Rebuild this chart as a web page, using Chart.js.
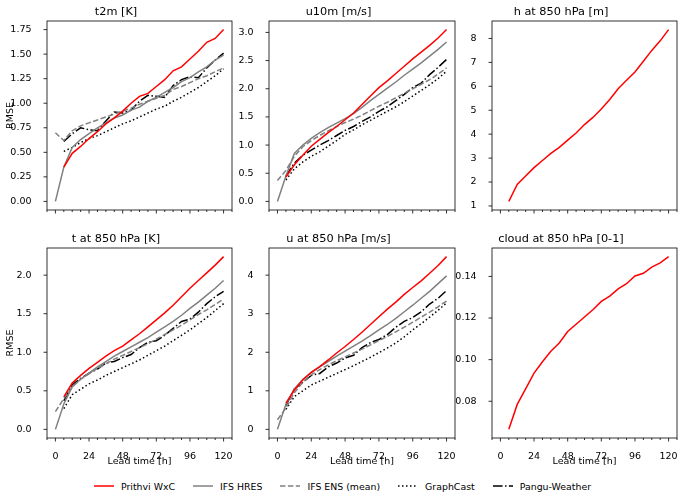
<!DOCTYPE html>
<html>
<head>
<meta charset="utf-8">
<script src="https://cdn.jsdelivr.net/npm/chart.js@4.4.0/dist/chart.umd.min.js"></script>
<style>
  body { margin: 0; width: 685px; height: 500px; background: #fff; position: relative; overflow: hidden; font-family: 'DejaVu Sans', sans-serif; }
  canvas { position: absolute; }
  #legend { position: absolute; left: 0; top: 480px; width: 685px; height: 12px; display: flex; justify-content: center; align-items: center; font-size: 9.4px; color: #000; }
  .item { display: flex; align-items: center; margin: 0 9px; white-space: nowrap; }
  .item svg { margin-right: 7px; }
</style>
</head>
<body>
<div id="legend"></div>
<script>
// lead times [h]
const leadTimes = [0, 6, 12, 18, 24, 30, 36, 42, 48, 54, 60, 66, 72, 78, 84, 90, 96, 102, 108, 114, 120];
const models = ['Prithvi WxC', 'IFS HRES', 'IFS ENS (mean)', 'GraphCast', 'Pangu-Weather'];

// t2m [K]
const t2mPrithvi = [null, 0.35, 0.49, 0.56, 0.64, 0.71, 0.79, 0.85, 0.92, 1.00, 1.07, 1.10, 1.17, 1.24, 1.33, 1.37, 1.45, 1.53, 1.62, 1.66, 1.75];
const t2mHres = [0.00, 0.35, 0.55, 0.63, 0.69, 0.75, 0.80, 0.85, 0.88, 0.93, 0.96, 1.02, 1.06, 1.11, 1.16, 1.22, 1.26, 1.32, 1.37, 1.44, 1.49];
const t2mEns = [0.70, 0.62, 0.72, 0.77, 0.80, 0.83, 0.86, 0.89, 0.92, 0.95, 0.99, 1.02, 1.05, 1.08, 1.14, 1.17, 1.21, 1.25, 1.28, 1.32, 1.36];
const t2mGraphCast = [null, 0.51, 0.55, 0.60, 0.64, 0.67, 0.71, 0.75, 0.79, 0.82, 0.86, 0.90, 0.94, 0.97, 1.02, 1.06, 1.11, 1.16, 1.22, 1.28, 1.35];
const t2mPangu = [null, 0.61, 0.69, 0.75, 0.73, 0.72, 0.82, 0.91, 0.90, 0.93, 1.02, 1.08, 1.07, 1.06, 1.18, 1.24, 1.27, 1.26, 1.36, 1.44, 1.51];

// u10m [m/s]
const u10Prithvi = [null, 0.43, 0.65, 0.82, 0.98, 1.10, 1.22, 1.33, 1.45, 1.57, 1.72, 1.87, 2.02, 2.14, 2.27, 2.40, 2.53, 2.65, 2.77, 2.90, 3.05];
const u10Hres = [0.00, 0.45, 0.85, 1.00, 1.12, 1.22, 1.31, 1.39, 1.47, 1.56, 1.67, 1.79, 1.90, 2.01, 2.12, 2.24, 2.35, 2.46, 2.58, 2.70, 2.83];
const u10Ens = [0.37, 0.55, 0.80, 0.97, 1.08, 1.17, 1.25, 1.33, 1.40, 1.46, 1.53, 1.61, 1.69, 1.76, 1.84, 1.92, 2.00, 2.08, 2.16, 2.26, 2.37];
const u10GraphCast = [null, 0.38, 0.58, 0.70, 0.80, 0.88, 0.98, 1.08, 1.19, 1.27, 1.36, 1.44, 1.52, 1.60, 1.68, 1.77, 1.87, 1.97, 2.07, 2.18, 2.31];
const u10Pangu = [null, 0.45, 0.68, 0.82, 0.91, 1.00, 1.08, 1.17, 1.26, 1.33, 1.42, 1.50, 1.60, 1.68, 1.79, 1.90, 2.02, 2.10, 2.25, 2.38, 2.52];

// h at 850 hPa [m]
const h850Prithvi = [null, 1.19, 1.90, 2.25, 2.60, 2.90, 3.20, 3.45, 3.75, 4.05, 4.40, 4.70, 5.05, 5.45, 5.90, 6.25, 6.60, 7.05, 7.50, 7.90, 8.37];

// t at 850 hPa [K]
const t850Prithvi = [null, 0.42, 0.60, 0.70, 0.79, 0.87, 0.95, 1.02, 1.08, 1.16, 1.24, 1.33, 1.42, 1.51, 1.61, 1.72, 1.83, 1.93, 2.03, 2.13, 2.24];
const t850Hres = [0.00, 0.33, 0.55, 0.65, 0.73, 0.81, 0.88, 0.95, 1.01, 1.07, 1.13, 1.19, 1.26, 1.33, 1.40, 1.48, 1.57, 1.65, 1.74, 1.83, 1.93];
const t850Ens = [0.23, 0.40, 0.55, 0.65, 0.72, 0.79, 0.85, 0.91, 0.96, 1.01, 1.06, 1.11, 1.17, 1.23, 1.29, 1.35, 1.42, 1.49, 1.55, 1.62, 1.69];
const t850GraphCast = [null, 0.27, 0.45, 0.52, 0.59, 0.64, 0.70, 0.75, 0.80, 0.85, 0.90, 0.96, 1.02, 1.08, 1.15, 1.22, 1.29, 1.37, 1.45, 1.54, 1.63];
const t850Pangu = [null, 0.37, 0.58, 0.66, 0.73, 0.78, 0.86, 0.88, 0.93, 0.97, 1.06, 1.13, 1.15, 1.22, 1.31, 1.40, 1.43, 1.52, 1.63, 1.72, 1.79];

// u at 850 hPa [m/s]
const u850Prithvi = [null, 0.68, 1.02, 1.28, 1.48, 1.63, 1.80, 1.98, 2.15, 2.33, 2.52, 2.72, 2.92, 3.12, 3.30, 3.50, 3.68, 3.85, 4.05, 4.25, 4.48];
const u850Hres = [0.00, 0.65, 1.05, 1.30, 1.48, 1.62, 1.76, 1.90, 2.03, 2.16, 2.29, 2.43, 2.58, 2.72, 2.88, 3.05, 3.22, 3.40, 3.58, 3.78, 3.98];
const u850Ens = [0.25, 0.55, 0.95, 1.22, 1.42, 1.55, 1.67, 1.78, 1.88, 1.98, 2.08, 2.19, 2.30, 2.41, 2.53, 2.65, 2.78, 2.91, 3.04, 3.18, 3.33];
const u850GraphCast = [null, 0.52, 0.85, 1.00, 1.15, 1.25, 1.35, 1.45, 1.55, 1.65, 1.76, 1.87, 1.99, 2.11, 2.24, 2.40, 2.58, 2.74, 2.91, 3.09, 3.28];
const u850Pangu = [null, 0.62, 1.05, 1.22, 1.40, 1.45, 1.62, 1.72, 1.85, 1.92, 2.12, 2.25, 2.33, 2.46, 2.65, 2.80, 2.90, 3.05, 3.25, 3.40, 3.60];

// cloud at 850 hPa [0-1]
const cloudPrithvi = [null, 0.0665, 0.0785, 0.086, 0.0935, 0.099, 0.104, 0.108, 0.1135, 0.117, 0.1205, 0.124, 0.128, 0.1305, 0.134, 0.1365, 0.1402, 0.1415, 0.1445, 0.1465, 0.1495];

// tick labels
const xTicks = [0, 24, 48, 72, 96, 120];
const t2mTicks = [0, 0.25, 0.5, 0.75, 1.0, 1.25, 1.5, 1.75];
const u10Ticks = [0, 0.5, 1.0, 1.5, 2.0, 2.5, 3.0];
const h850Ticks = [1, 2, 3, 4, 5, 6, 7, 8];
const t850Ticks = [0, 0.5, 1.0, 1.5, 2.0];
const u850Ticks = [0, 1, 2, 3, 4];
const cloudTicks = [0.08, 0.10, 0.12, 0.14];

const colors = ['#ff0000', '#808080', '#808080', '#000000', '#000000'];
const dashes = [[], [], [5.5, 2.4], [1.5, 2.5], [9.6, 2.4, 1.5, 2.4]];

Chart.defaults.font.family = "'DejaVu Sans', sans-serif";
Chart.defaults.color = '#000';

const colL = [47, 269, 492], colR = [232, 455, 677];
const rowT = [21, 248], rowB = [210, 438];

// box around the axes + outward ticks (major/minor on x)
const frame = {
  id: 'frame',
  afterDraw(chart) {
    const { ctx, chartArea: a, scales: { x, y } } = chart;
    ctx.save();
    ctx.strokeStyle = '#000';
    ctx.lineWidth = 0.8;
    ctx.strokeRect(a.left, a.top, a.right - a.left, a.bottom - a.top);
    ctx.beginPath();
    for (let v = -6; v <= 126; v += 6) {
      const p = x.getPixelForValue(v);
      const len = v % 24 === 0 ? 3.5 : 2;
      ctx.moveTo(p, a.bottom);
      ctx.lineTo(p, a.bottom + len);
    }
    y.ticks.forEach(t => {
      const p = y.getPixelForValue(t.value);
      ctx.moveTo(a.left, p);
      ctx.lineTo(a.left - 3.5, p);
    });
    ctx.stroke();
    ctx.restore();
  }
};

function yRange(series) {
  const vals = series.flat().filter(v => v !== null);
  const lo = Math.min(...vals), hi = Math.max(...vals);
  const m = (hi - lo) * 0.05;
  return [lo - m, hi + m];
}

function panel(title, series, yTicks, dec, row, col) {
  const xh = row === 1 ? 32 : 16;
  const w = colR[col] - colL[col] + 47 + 8;
  const h = 21 + rowB[row] - rowT[row] + xh;
  const cv = document.createElement('canvas');
  cv.width = w; cv.height = h;
  cv.style.left = (colL[col] - 47) + 'px';
  cv.style.top = (rowT[row] - 21) + 'px';
  document.body.appendChild(cv);
  const [ymin, ymax] = yRange(series);

  new Chart(cv, {
    type: 'line',
    data: {
      datasets: series.map((vals, i) => ({
        label: models[i],
        data: leadTimes.map((t, j) => ({ x: t, y: vals[j] })),
        borderColor: colors[i],
        borderDash: dashes[i],
        borderWidth: 1.5,
        pointRadius: 0,
        tension: 0,
        fill: false
      }))
    },
    options: {
      responsive: false,
      animation: false,
      events: [],
      layout: { padding: { left: 0, top: 0, right: 8, bottom: 0 } },
      plugins: {
        legend: { display: false },
        tooltip: { enabled: false },
        title: {
          display: true,
          text: title,
          color: '#000',
          font: { size: 11.3, weight: 'normal' },
          padding: { top: 5.2, bottom: 2.24 }
        }
      },
      scales: {
        x: {
          type: 'linear',
          min: -6,
          max: 126,
          grid: { display: false },
          border: { display: false },
          afterBuildTicks: s => { s.ticks = xTicks.map(v => ({ value: v })); },
          afterFit: s => { s.height = xh; },
          ticks: { display: row === 1, padding: 5, maxRotation: 0, autoSkip: false, font: { size: 9.5 } },
          title: { display: row === 1, text: 'Lead time [h]', font: { size: 9.5 }, padding: { top: 0, bottom: 2.6 } }
        },
        y: {
          type: 'linear',
          min: ymin,
          max: ymax,
          grid: { display: false },
          border: { display: false },
          afterBuildTicks: s => { s.ticks = yTicks.map(v => ({ value: v })); },
          afterFit: s => { s.width = 47; },
          ticks: { padding: 7.5, font: { size: 9.5 }, callback: v => v.toFixed(dec) },
          title: { display: col === 0, text: 'RMSE', font: { size: 9.5 }, padding: { top: 4.8, bottom: 0 } }
        }
      }
    },
    plugins: [frame]
  });
}

panel('t2m [K]', [t2mPrithvi, t2mHres, t2mEns, t2mGraphCast, t2mPangu], t2mTicks, 2, 0, 0);
panel('u10m [m/s]', [u10Prithvi, u10Hres, u10Ens, u10GraphCast, u10Pangu], u10Ticks, 1, 0, 1);
panel('h at 850 hPa [m]', [h850Prithvi], h850Ticks, 0, 0, 2);
panel('t at 850 hPa [K]', [t850Prithvi, t850Hres, t850Ens, t850GraphCast, t850Pangu], t850Ticks, 1, 1, 0);
panel('u at 850 hPa [m/s]', [u850Prithvi, u850Hres, u850Ens, u850GraphCast, u850Pangu], u850Ticks, 0, 1, 1);
panel('cloud at 850 hPa [0-1]', [cloudPrithvi], cloudTicks, 2, 1, 2);

// legend
const legend = document.getElementById('legend');
models.forEach((m, i) => {
  const item = document.createElement('div');
  item.className = 'item';
  item.innerHTML = '<svg width="20" height="6"><line x1="0" y1="3" x2="20" y2="3" stroke="' + colors[i] +
    '" stroke-width="1.5" stroke-dasharray="' + (dashes[i].length ? dashes[i].join(' ') : 'none') + '"/></svg>';
  const label = document.createElement('span');
  label.textContent = m;
  item.appendChild(label);
  legend.appendChild(item);
});
</script>
</body>
</html>
